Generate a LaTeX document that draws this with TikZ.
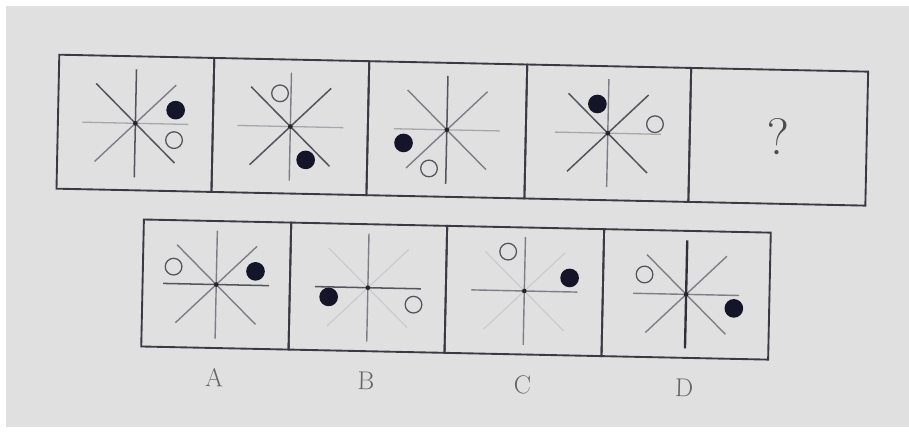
\documentclass[tikz,border=0pt]{standalone}
\usepackage{tikz}
\usetikzlibrary{positioning}

\definecolor{photo}{HTML}{E0E0E0}
\definecolor{frame}{HTML}{3A3A44}
\definecolor{inkbold}{HTML}{30303A}
\definecolor{inkdark}{HTML}{55555F}
\definecolor{inkmid}{HTML}{7E7E88}
\definecolor{inklight}{HTML}{A6A6AE}
\definecolor{inkfaint}{HTML}{CACACF}
\definecolor{dotblack}{HTML}{15152A}

\begin{document}
\begin{tikzpicture}[
    x=0.03cm, y=-0.03cm,
    panel/.style={rectangle, draw=frame, line width=1.6pt, outer sep=0pt, minimum height=4.02cm},
    lowpanel/.style={panel, minimum height=3.81cm},
    boldline/.style={draw=inkbold, line width=2pt},
    darkline/.style={draw=inkdark, line width=1.3pt},
    midline/.style={draw=inkmid, line width=1.2pt},
    lightline/.style={draw=inklight, line width=1.1pt},
    faintline/.style={draw=inkfaint, line width=1pt},
    hub/.style={fill=black!85},
    blackdot/.style={circle, fill=dotblack, minimum size=0.56cm, inner sep=0pt},
    whitedot/.style={circle, draw=inkdark, line width=1.1pt, fill=photo, minimum size=0.5cm, inner sep=0pt},
    letter/.style={font=\fontsize{22}{22}\selectfont, text=black!60},
    qmark/.style={font=\fontsize{44}{44}\selectfont, text=black!70}
]

\useasboundingbox (0,0) rectangle (909,432);
\fill[white] (0,0) rectangle (909,432);
\fill[photo] (6,6) rectangle (909,427);

\begin{scope}[transform canvas={rotate around={-1.2:(454,216)}}]

% question row
\node[panel, minimum width=4.65cm] (t1) at (133.5,130) {};
\node[panel, minimum width=4.65cm, right=0pt of t1] (t2) {};
\node[panel, minimum width=4.74cm, right=0pt of t2] (t3) {};
\node[panel, minimum width=4.92cm, right=0pt of t3] (t4) {};
\node[panel, minimum width=5.31cm, right=0pt of t4] (t5) {};
\node[qmark] (q) at (t5.center) {?};

% answer row
\node[lowpanel, minimum width=4.42cm] (oa) at (217.7,289.5) {};
\node[lowpanel, minimum width=4.68cm, right=0pt of oa] (ob) {};
\node[lowpanel, minimum width=4.71cm, right=0pt of ob] (oc) {};
\node[lowpanel, minimum width=5.00cm, right=0pt of oc] (od) {};

\node[letter, below=0.5cm of oa] (la) {A};
\node[letter, below=0.5cm of ob] (lb) {B};
\node[letter, below=0.5cm of oc] (lc) {C};
\node[letter, below=0.5cm of od] (ld) {D};

% stars with dots
\foreach \pn/\lv/\lh/\lb/\lf/\dotp/\ringp in {
    t1/darkline/lightline/darkline/midline/{40,-14}/{39,16},
    t2/midline/lightline/darkline/darkline/{16,33}/{-11,-33},
    t3/darkline/lightline/midline/midline/{-43,14}/{-17,39},
    t4/midline/lightline/darkline/darkline/{-11,-29}/{47,-10},
    oa/midline/darkline/midline/midline/{39,-14}/{-43,-17},
    ob/midline/darkline/faintline/faintline/{-39,10}/{46,16},
    oc/midline/midline/faintline/faintline/{45,-14}/{-17,-39},
    od/boldline/midline/midline/midline/{48,13}/{-42,-19}}
{
  \begin{scope}[shift={(\pn.center)}]
    \draw[\lv] (0,-54) -- (0,54);
    \draw[\lh] (-53,0) -- (53,0);
    \draw[\lb] (-40,-39) -- (40,39);
    \draw[\lf] (-40,39) -- (40,-39);
    \fill[hub] (0,0) circle[radius=2pt];
    \node[blackdot] (\pn-dot) at (\dotp) {};
    \node[whitedot] (\pn-ring) at (\ringp) {};
  \end{scope}
}

\end{scope}

\end{tikzpicture}
\end{document}
